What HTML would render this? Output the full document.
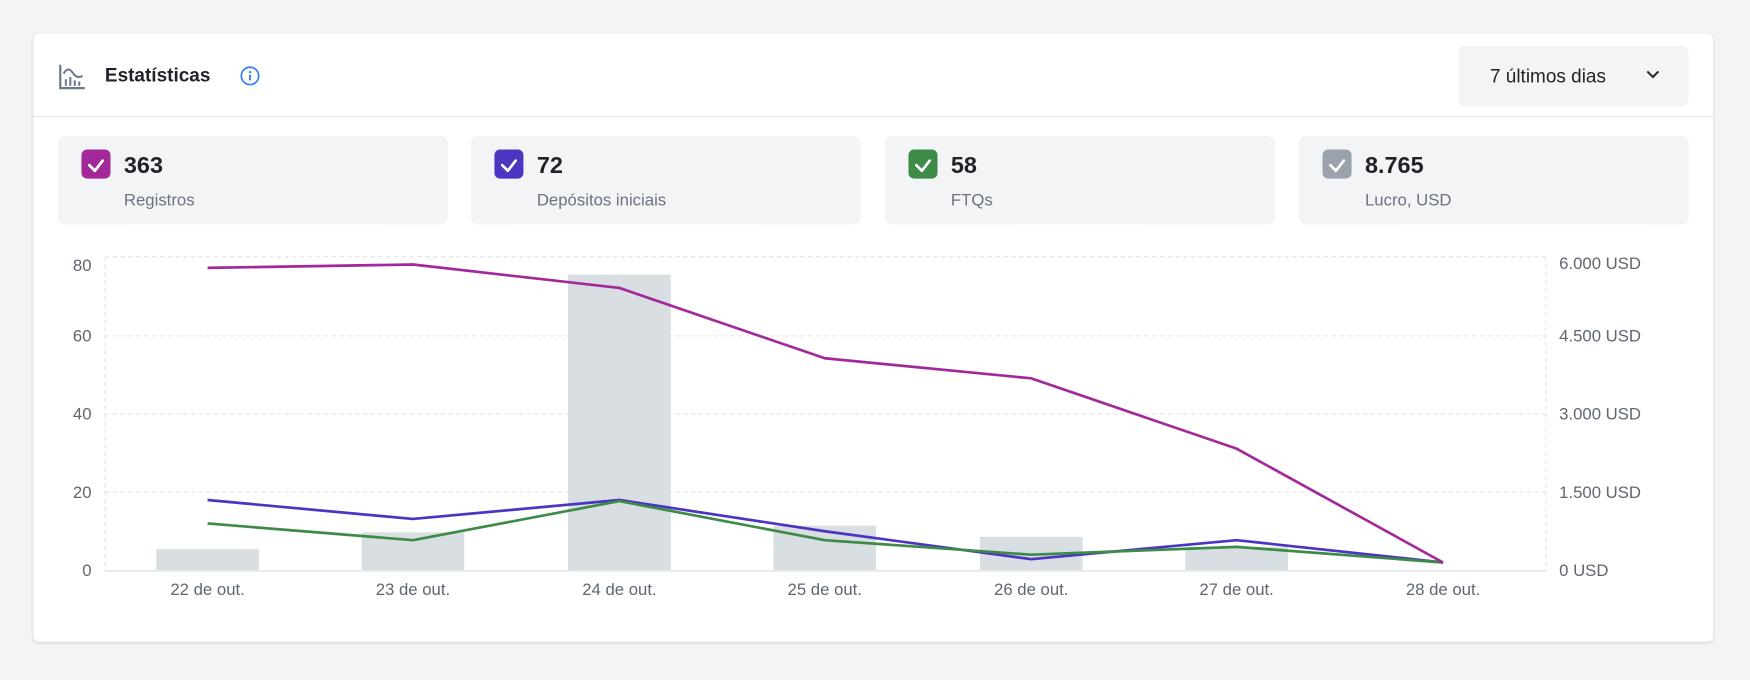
<!DOCTYPE html>
<html><head><meta charset="utf-8"><style>
html,body{margin:0;padding:0;background:#f3f4f6;width:1750px;height:680px;overflow:hidden}
#w{width:1568px;height:609px;transform:scale(1.11607);transform-origin:0 0;position:relative;font-family:"Liberation Sans",sans-serif}
.card{position:absolute;left:30px;top:30px;width:1505px;height:545px;background:#fff;border-radius:5px;box-shadow:0 1px 3px rgba(0,0,0,.12)}
.abs{position:absolute}
.stat{position:absolute;top:122px;width:349px;height:79px;background:#f3f4f6;border-radius:6px}
.cb{position:absolute;left:21px;top:12px;width:26px;height:26px;border-radius:5px}
.num{position:absolute;left:59px;top:15px;font-size:21px;font-weight:bold;color:#1f2328}
.lab{position:absolute;left:59px;top:49px;font-size:15px;color:#6b7280}
</style></head><body><div id="w">
<div class="card"></div>
<svg class="abs" style="left:52px;top:56px" width="26" height="26" viewBox="0 0 26 26"><path d="M2 2V23H24" fill="none" stroke="#6b7a8c" stroke-width="2"/><path d="M5 10 Q9 3 13 9 T22 12" fill="none" stroke="#6b7a8c" stroke-width="1.8"/><path d="M7 21V15M11 21V13M15 21V16M19 21V17" stroke="#6b7a8c" stroke-width="1.8"/></svg>
<div class="abs" style="left:94px;top:58px;font-size:17px;font-weight:bold;color:#1f2328">Estatísticas</div>
<svg class="abs" style="left:215px;top:59px" width="18" height="18"><circle cx="9" cy="9" r="7.8" fill="none" stroke="#3b82f6" stroke-width="1.6"/><circle cx="9" cy="5.6" r="1.1" fill="#3b82f6"/><path d="M9 8V13" stroke="#3b82f6" stroke-width="1.8"/></svg>
<div class="abs" style="left:1307px;top:41px;width:206px;height:54px;background:#f3f4f6;border-radius:5px"></div>
<div class="abs" style="left:1335px;top:59px;font-size:17px;color:#1f2328">7 últimos dias</div>
<svg class="abs" style="left:1474px;top:62px" width="14" height="10"><path d="M2 2L7 7L12 2" fill="none" stroke="#1f2328" stroke-width="1.8"/></svg>
<div class="abs" style="left:30px;top:104px;width:1505px;height:1px;background:#e5e7eb"></div>

<div class="stat" style="left:52px"><div class="cb" style="background:#a3299a"></div><div class="num">363</div><div class="lab">Registros</div></div>
<div class="stat" style="left:422px"><div class="cb" style="background:#4c35c0"></div><div class="num">72</div><div class="lab">Depósitos iniciais</div></div>
<div class="stat" style="left:793px"><div class="cb" style="background:#3d8b47"></div><div class="num">58</div><div class="lab">FTQs</div></div>
<div class="stat" style="left:1164px"><div class="cb" style="background:#9aa3ad"></div><div class="num">8.765</div><div class="lab">Lucro, USD</div></div>
<svg class="abs" style="left:0;top:0" width="1568" height="609">
<g fill="none" stroke="#fff" stroke-width="2.4" stroke-linecap="round" stroke-linejoin="round">
<path d="M80 148L85 153L92 144"/><path d="M450 148L455 153L462 144"/><path d="M821 148L826 153L833 144"/><path d="M1192 148L1197 153L1204 144"/></g>
<g stroke="#e3e5e8" stroke-width="1" stroke-dasharray="4 3">
<path d="M94 230H1385M94 301H1385M94 371H1385M94 441H1385M94 230V511M1385 230V511"/></g>
<g fill="#d9dee2">
<rect x="140" y="492" width="92" height="19"/><rect x="324" y="477" width="92" height="34"/><rect x="509" y="246" width="92" height="265"/><rect x="693" y="471" width="92" height="40"/><rect x="878" y="481" width="92" height="30"/><rect x="1062" y="490" width="92" height="21"/></g>
<path d="M94 511.5H1385" stroke="#e5e7eb" stroke-width="1.5"/>
<g fill="none" stroke-width="2.4" stroke-linejoin="round">
<polyline stroke="#4c35c0" points="186,448 370,465 555,448 739,476 924,501 1108,484 1293,504"/>
<polyline stroke="#3d8b47" points="186,469 370,484 555,449 739,484 924,497 1108,490 1293,504"/>
<polyline stroke="#a3299a" points="186,240 370,237 555,258 739,321 924,339 1108,402 1293,504"/></g>
<g font-family="Liberation Sans,sans-serif" font-size="15" fill="#5f6670">
<g text-anchor="end"><text x="82" y="243">80</text><text x="82" y="306">60</text><text x="82" y="376">40</text><text x="82" y="446">20</text><text x="82" y="516">0</text></g>
<text x="1397" y="241">6.000 USD</text><text x="1397" y="306">4.500 USD</text><text x="1397" y="376">3.000 USD</text><text x="1397" y="446">1.500 USD</text><text x="1397" y="516">0 USD</text>
<g text-anchor="middle"><text x="186" y="533">22 de out.</text><text x="370" y="533">23 de out.</text><text x="555" y="533">24 de out.</text><text x="739" y="533">25 de out.</text><text x="924" y="533">26 de out.</text><text x="1108" y="533">27 de out.</text><text x="1293" y="533">28 de out.</text></g>
</g></svg>
</div></body></html>
